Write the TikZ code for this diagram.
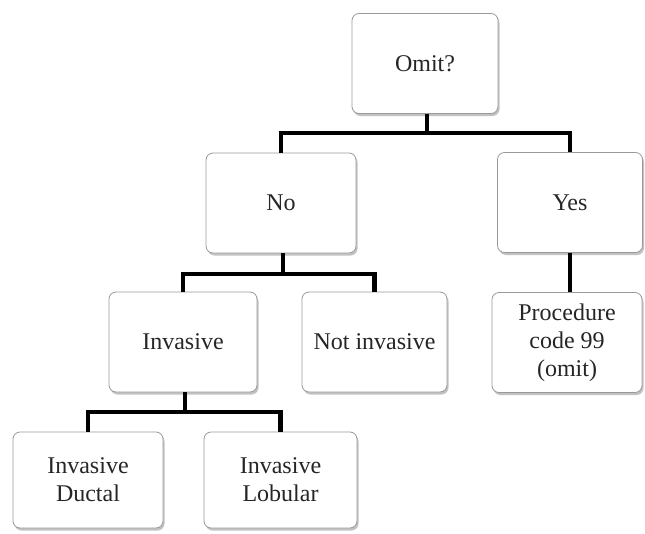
\documentclass[tikz,border=0pt]{standalone}
\usepackage{fontspec}
\setmainfont{Liberation Serif}
\usetikzlibrary{shadows}
\begin{document}
\begin{tikzpicture}[x=1pt,y=-1pt,
  box/.style={draw=black!40, line width=0.8pt, fill=white, rounded corners=7pt,
    minimum height=100pt, inner sep=2pt, align=center, text=black!85,
    font=\fontsize{24}{28}\selectfont,
    drop shadow={shadow xshift=1.5pt, shadow yshift=-2.5pt, opacity=0.4, fill=black!60}},
  conn/.style={line width=4.5pt, black}]
\useasboundingbox (0,0) rectangle (645,533);
\node[box, minimum width=146pt] (omit) at (425,63.5) {Omit?};
\node[box, minimum width=150pt] (no) at (281,203) {No};
\node[box, minimum width=145pt] (yes) at (570,202.5) {Yes};
\node[box, minimum width=148pt] (inv) at (183,342) {Invasive};
\node[box, minimum width=145pt] (notinv) at (374.5,342) {Not invasive};
\node[box, minimum width=150pt] (proc) at (567,342.5) {Procedure\\code 99\\(omit)};
\node[box, minimum width=150pt, minimum height=96pt] (duct) at (88,480) {Invasive\\Ductal};
\node[box, minimum width=153pt, minimum height=96pt] (lob) at (280.5,480) {Invasive\\Lobular};
\coordinate (b1) at (427,133);
\coordinate (b2) at (283,274);
\coordinate (b3) at (185,412);
\draw[conn] (omit.south -| b1) -- (b1);
\draw[conn] (no.north) |- (yes.north |- b1) -- (yes.north);
\draw[conn] (no.south -| b2) -- (b2);
\draw[conn] (inv.north) |- (notinv.north |- b2) -- (notinv.north);
\draw[conn] (yes.south) -- (proc.north -| yes.south);
\draw[conn] (inv.south -| b3) -- (b3);
\draw[conn] (duct.north) |- (lob.north |- b3) -- (lob.north);
\end{tikzpicture}
\end{document}
